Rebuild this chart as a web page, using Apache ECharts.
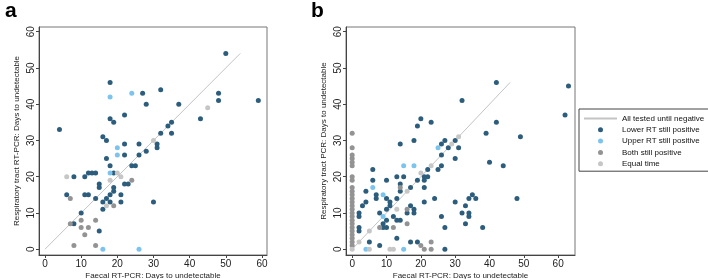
<!DOCTYPE html>
<html><head><meta charset="utf-8">
<script src="https://cdn.jsdelivr.net/npm/echarts@6/dist/echarts.min.js"></script>
<style>html,body{margin:0;padding:0;background:#fff}#c{width:708px;height:279px}</style>
</head><body><div id="c"></div>
<script>
// ---------- data ----------
const tickValues = [0, 10, 20, 30, 40, 50, 60];
const seriesNames = ['All tested until negative', 'Lower RT still positive', 'Upper RT still positive', 'Both still positive', 'Equal time'];

// Panel a
const aLine = [[0, 0], [54, 54]];
const aLower = [[4,33],[18,46],[27,43],[32,44],[28,40],[37,40],[50,54],[48,43],[48,41],[59,41],[43,36],[18,36],[19,35],[22,37],[34,34],[35,35],[32,32],[35,32],[16,31],[17,30],[22,29],[26,29],[31,29],[31,28],[22,26],[26,26],[28,27],[17,25],[18,23],[24,23],[25,23],[19,21],[8,20],[11,20],[12,21],[13,21],[14,21],[15,18],[15,17],[19,17],[19,16],[22,18],[23,18],[18,15],[21,15],[6,15],[11,15],[12,15],[14,14],[17,14],[16,13],[18,13],[21,13],[30,13],[16,11],[10,10],[8,7],[15,5]];
const aUpper = [[18,42],[24,43],[20,28],[20,26],[18,21],[16,0],[26,0]];
const aBoth = [[24,19],[7,14],[19,12],[7,7],[10,8],[14,8],[10,6],[12,6],[11,4],[8,1],[14,1]];
const aEqual = [[45,39],[30,30],[6,20],[20,21],[21,20],[18,19],[17,12]];

// Panel b
const bLine = [[0, 0], [46, 46]];
const bLower = [[42,46],[63,45],[62,37],[32,41],[19,34],[20,36],[23,35],[42,35],[39,32],[49,31],[18,30],[27,30],[30,30],[14,29],[26,29],[28,28],[31,28],[26,26],[30,25],[40,24],[44,23],[26,23],[25,22],[22,22],[6,22],[13,20],[15,20],[21,20],[22,20],[6,19],[10,19],[19,19],[21,19],[14,18],[21,17],[17,17],[4,16],[14,16],[7,15],[35,15],[7,14],[10,14],[13,14],[24,14],[34,14],[36,14],[48,14],[4,13],[11,13],[21,13],[30,13],[3,12],[11,12],[17,12],[33,12],[2,10],[8,10],[16,10],[18,10],[32,10],[34,10],[10,11],[18,11],[2,9],[12,9],[26,9],[34,9],[10,8],[13,8],[14,8],[9,7],[33,7],[2,6],[9,6],[10,6],[27,6],[38,6],[2,5],[13,3],[5,2],[17,2],[19,2],[8,1],[27,0]];
const bUpper = [[25,28],[15,23],[18,23],[6,17],[9,15],[9,9],[4,0],[15,0]];
const bBoth = [[0,32],[0,28],[0,26],[0,25],[0,24],[0,23],[0,20],[0,19],[0,17],[0,16],[0,15],[0,14],[0,13],[0,12],[0,11],[0,10],[0,9],[0,8],[0,7],[0,6],[0,5],[0,4],[0,3],[0,2],[0,1],[14,17],[16,11],[16,7],[8,6],[12,6],[20,1],[21,0],[23,2],[23,0]];
const bEqual = [[0,0],[2,2],[5,5],[5,0],[11,0],[12,0],[13,11],[16,16],[20,21],[23,23],[29,29],[31,31]];

// ---------- style ----------
const FONT = '"Liberation Sans", Arial, Helvetica, sans-serif';
const COLORS = ['#c4c4c4', '#2d5d7c', '#7cc4ee', '#939393', '#c6c6c6'];

function xAxisFor(gi, min, max) {
  return {
    gridIndex: gi, type: 'value', min: min, max: max,
    name: 'Faecal RT-PCR: Days to undetectable', nameLocation: 'middle', nameGap: 17, nameMoveOverlap: false,
    nameTextStyle: {fontFamily: FONT, fontSize: 8, color: '#222', verticalAlign: 'top'},
    axisLine: {show: true, onZero: false, lineStyle: {color: '#444', width: 1}},
    axisTick: {show: true, customValues: tickValues, length: 3, lineStyle: {color: '#444'}},
    axisLabel: {show: true, customValues: tickValues, fontFamily: FONT, fontSize: 10, color: '#222', margin: 4},
    splitLine: {show: false}
  };
}
function yAxisFor(gi, min, max, name) {
  return {
    gridIndex: gi, type: 'value', min: min, max: max,
    name: name, nameLocation: 'middle', nameGap: 18, nameMoveOverlap: false,
    nameTextStyle: {fontFamily: FONT, fontSize: 8, color: '#222'},
    axisLine: {show: true, onZero: false, lineStyle: {color: '#444', width: 1}},
    axisTick: {show: true, customValues: tickValues, length: 3, lineStyle: {color: '#444'}},
    axisLabel: {show: true, customValues: tickValues, rotate: 90, fontFamily: FONT, fontSize: 10, color: '#222', margin: 3},
    splitLine: {show: false}
  };
}
function scat(name, data, gi, color) {
  return {
    name: name, type: 'scatter', xAxisIndex: gi, yAxisIndex: gi, data: data,
    symbol: 'circle', symbolSize: 5, itemStyle: {color: color, opacity: 1}, z: 3,
    emphasis: {disabled: true}
  };
}
function line(name, data, gi) {
  return {
    name: name, type: 'line', xAxisIndex: gi, yAxisIndex: gi, data: data,
    symbol: 'none', showSymbol: false, lineStyle: {color: COLORS[0], width: 1}, itemStyle: {color: COLORS[0]}, z: 2,
    emphasis: {disabled: true}, animation: false
  };
}

const chart = echarts.init(document.getElementById('c'), null, {renderer: 'canvas'});
chart.setOption({
  animation: false,
  backgroundColor: '#fff',
  title: [
    {text: 'a', left: 0, top: -4, textStyle: {fontFamily: FONT, fontSize: 21, fontWeight: 'bold', color: '#000'}},
    {text: 'b', left: 306, top: -4, textStyle: {fontFamily: FONT, fontSize: 21, fontWeight: 'bold', color: '#000'}}
  ],
  grid: [
    {left: 39, top: 27, width: 228, height: 228, outerBoundsMode: 'none', containLabel: false, show: true, borderColor: '#777', borderWidth: 1, backgroundColor: '#fff'},
    {left: 346, top: 27, width: 229, height: 228, outerBoundsMode: 'none', containLabel: false, show: true, borderColor: '#777', borderWidth: 1, backgroundColor: '#fff'}
  ],
  xAxis: [xAxisFor(0, -1.66, 61.4), xAxisFor(1, -1.8, 64.9)],
  yAxis: [yAxisFor(0, -1.6, 61.3, 'Respiratory tract RT-PCR: Days to undetectable'),
          yAxisFor(1, -1.6, 61.3, 'Respiratory tract PCR: Days to undetectable')],
  legend: {
    orient: 'vertical', left: 579, top: 109,
    data: [
      {name: seriesNames[0], itemStyle: {opacity: 0}},
      seriesNames[1], seriesNames[2], seriesNames[3], seriesNames[4]
    ],
    backgroundColor: '#fff', borderColor: '#444', borderWidth: 1,
    padding: [5, 5, 3, 4],
    itemWidth: 33, itemHeight: 5, itemGap: 2.3,
    textStyle: {fontFamily: FONT, fontSize: 8, color: '#111', lineHeight: 9},
    selectedMode: false
  },
  series: [
    line(seriesNames[0], aLine, 0),
    scat(seriesNames[1], aLower, 0, COLORS[1]),
    scat(seriesNames[2], aUpper, 0, COLORS[2]),
    scat(seriesNames[3], aBoth, 0, COLORS[3]),
    scat(seriesNames[4], aEqual, 0, COLORS[4]),
    line(seriesNames[0], bLine, 1),
    scat(seriesNames[1], bLower, 1, COLORS[1]),
    scat(seriesNames[2], bUpper, 1, COLORS[2]),
    scat(seriesNames[3], bBoth, 1, COLORS[3]),
    scat(seriesNames[4], bEqual, 1, COLORS[4])
  ]
});
</script></body></html>
